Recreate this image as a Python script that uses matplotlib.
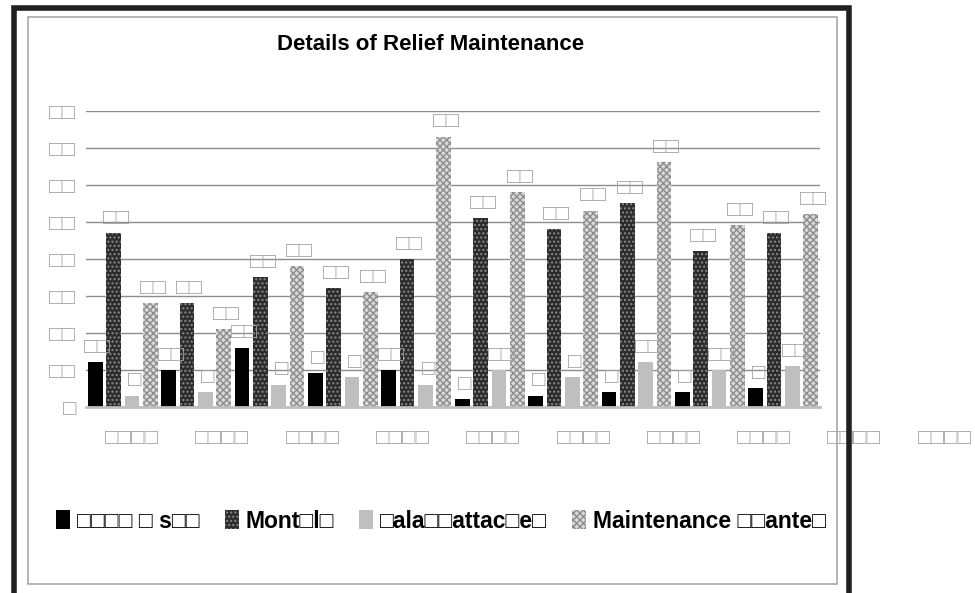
import matplotlib
matplotlib.use("Agg")
import numpy as np
import matplotlib.pyplot as plt
from matplotlib.patches import Patch, Rectangle

plt.rcParams['font.family'] = ['Liberation Sans', 'DejaVu Sans']
plt.rcParams['hatch.linewidth'] = 1.0

# -------------------------------
# Data (tofu boxes kept as in the source picture)
# -------------------------------
years = ["□□□□"] * 10
series = ["□□□□ □ s□□", "Mont□l□", "□ala□□attac□e□", "Maintenance □□ante□"]

persons = [12, 10, 16, 9, 10, 2, 3, 4, 4, 5]
monthly = [47, 28, 35, 32, 40, 51, 48, 55, 42, 47]
salary  = [3, 4, 6, 8, 6, 10, 8, 12, 10, 11]
granted = [28, 21, 38, 31, 73, 58, 53, 66, 49, 52]

yticks = list(range(0, 81, 10))

# -------------------------------
# Bar styles
# -------------------------------
styles = [
    dict(facecolor='#000000', edgecolor='#000000', hatch=None),
    dict(facecolor='#2c2c2c', edgecolor='#8a8a8a', hatch='....'),
    dict(facecolor='#bfbfbf', edgecolor='#bfbfbf', hatch=None),
    dict(facecolor='#d9d9d9', edgecolor='#8c8c8c', hatch='xxxxx'),
]
grey_txt = '#a3a3a3'

W, H = 975, 593
fig = plt.figure(figsize=(W / 100, H / 100), dpi=100)

# frame: thick outer border + thin grey inner border
fig.add_artist(Rectangle((14 / W, -0.05), (848.5 - 14) / W, 1.05 - 7.5 / H,
                         transform=fig.transFigure, fill=False,
                         lw=4.0, ec='#231f20'))
fig.add_artist(Rectangle((28 / W, 1 - 584 / H), (836.5 - 28) / W, (584 - 16.5) / H,
                         transform=fig.transFigure, fill=False,
                         lw=1.1, ec='#a0a0a0'))

# -------------------------------
# Main axes
# -------------------------------
ax = fig.add_axes([86 / W, 1 - 406.7 / H, 734 / W, 296 / H])
x = np.arange(len(years))
data = [persons, monthly, salary, granted]
for k, (vals, st) in enumerate(zip(data, styles)):
    pos = x + (k - 1.5) * 0.25
    ax.bar(pos, vals, width=0.2, linewidth=0, **st)
    for p, v in zip(pos, vals):
        ax.annotate("□" * len(str(v)), (p, v), xytext=(2, 3),
                    textcoords='offset points', ha='center', va='bottom',
                    fontsize=16, color=grey_txt)

ax.set_xlim(-0.5, 9.5)
ax.set_ylim(0, 80)
ax.set_yticks(yticks)
ax.set_yticklabels(["□" * len(str(t)) for t in yticks])
ax.set_xticks([])
ax.tick_params(axis='y', length=0, pad=7, labelsize=16, labelcolor=grey_txt)
ax.yaxis.grid(True, color='#8c8c8c', lw=1.0)
ax.set_axisbelow(True)
for s in ['top', 'right', 'left']:
    ax.spines[s].set_visible(False)
ax.spines['bottom'].set_color('#bfbfbf')
ax.spines['bottom'].set_linewidth(2)

# category labels sit on a wider, invisible axis (they run past the plot)
step = 90.3
lab = fig.add_axes([86 / W, 1 - 406.7 / H, 889 / W, 296 / H])
lab.patch.set_visible(False)
for s in lab.spines.values():
    s.set_visible(False)
lab.set_yticks([])
lab.set_xlim(-46 / step, -46 / step + 889 / step)
lab.set_xticks(x)
lab.set_xticklabels(years)
lab.tick_params(axis='x', length=0, pad=15, labelsize=16, labelcolor=grey_txt)

# -------------------------------
# Title and legend
# -------------------------------
fig.text(431 / W, 1 - 44 / H, "Details of Relief Maintenance",
         ha='center', va='center', fontsize=16, fontweight='bold')

handles = [Patch(facecolor=st['facecolor'], edgecolor=st['edgecolor'],
                 hatch=st['hatch'], linewidth=0) for st in styles]
fig.legend(handles, series, loc='center', bbox_to_anchor=(441 / W, 1 - 521 / H),
           ncol=4, frameon=False, prop=dict(weight='bold', size=16.5),
           handlelength=0.6, handleheight=0.9, handletextpad=0.3,
           columnspacing=1.1)

fig.savefig("out.png", dpi=100)
